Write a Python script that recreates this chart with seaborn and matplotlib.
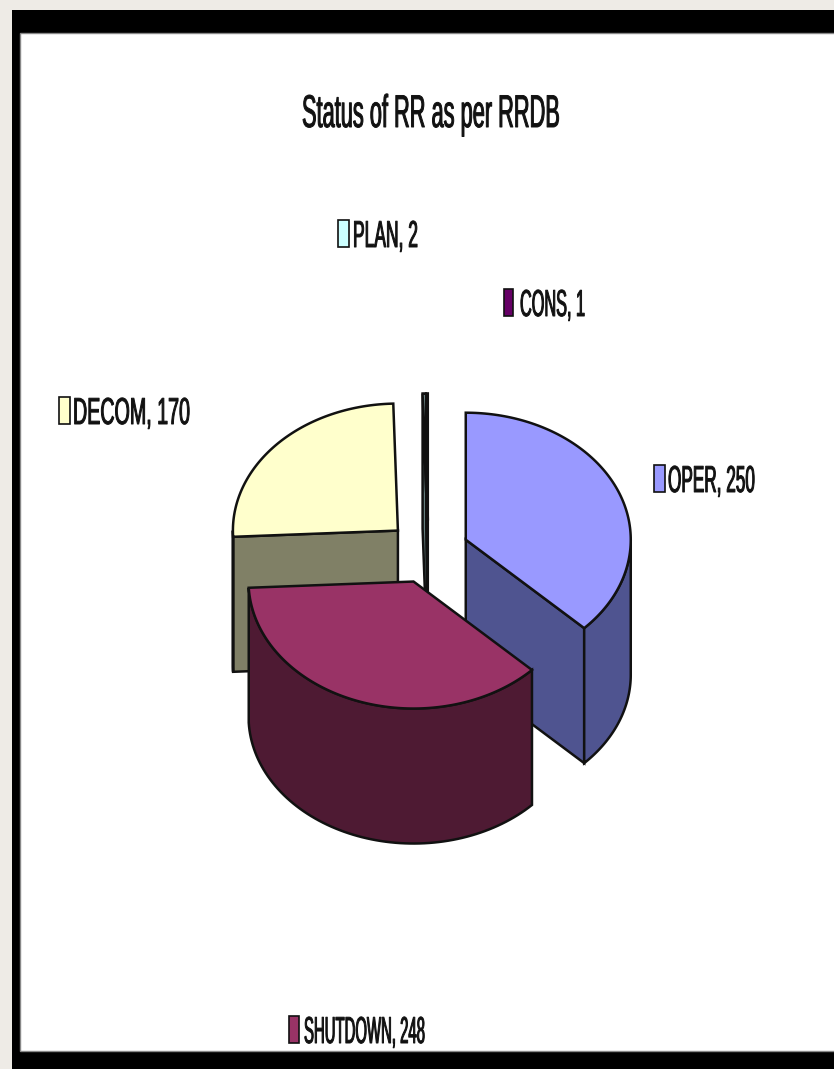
import numpy as np
import matplotlib
matplotlib.use("Agg")
import matplotlib.pyplot as plt
import matplotlib.patheffects as pe
from matplotlib.patches import Rectangle
from matplotlib.transforms import Affine2D
import seaborn as sns

# data, clockwise from 12 o'clock
categories = ["OPER", "SHUTDOWN", "DECOM", "PLAN", "CONS"]
values = [250, 248, 170, 2, 1]
title = "Status of RR as per RRDB"

top_colors = sns.color_palette(["#9999FF", "#993366", "#FFFFCC", "#CCFFFF", "#660066"])
side_colors = sns.color_palette(["#4F5490", "#4E1A33", "#808066", "#667F7F", "#330033"])

# pie geometry in pixels
CENTER_X, CENTER_Y = 428, 552
RX, RY = 165, 127
DEPTH = 135
EXPLODE = 41
EDGE = "#111111"
LINE = 1.8

W, H = 834, 1069

sns.set_theme(style="white")
plt.rcParams["font.family"] = ["Liberation Sans Narrow", "Liberation Sans", "DejaVu Sans"]


class SqueezeX(pe.AbstractPathEffect):
    # the chart's labels are narrower than any installed font, and heavy from the blur
    def __init__(self, factor, x0, stroke=0.7):
        super().__init__()
        self.factor = factor
        self.x0 = x0
        self.stroke = stroke

    def draw_path(self, renderer, gc, tpath, affine, rgbFace=None):
        squeeze = Affine2D().translate(-self.x0, 0).scale(self.factor, 1).translate(self.x0, 0)
        gc0 = renderer.new_gc()
        gc0.copy_properties(gc)
        gc0.set_foreground(rgbFace)
        gc0.set_linewidth(self.stroke)
        renderer.draw_path(gc0, tpath, affine + squeeze, rgbFace)
        gc0.restore()


def ellipse_pts(cx, cy, theta):
    theta = np.radians(theta)
    return cx + RX * np.sin(theta), cy - RY * np.cos(theta)


def draw_slice(ax, start, end, top, side, z):
    mid = (start + end) / 2
    cx = CENTER_X + EXPLODE * np.sin(np.radians(mid))
    cy = CENTER_Y - EXPLODE * RY / RX * np.cos(np.radians(mid))

    # cut faces, only the ones turned towards the viewer
    for angle, visible in ((start, np.sin(np.radians(start)) < 0), (end, np.sin(np.radians(end)) > 0)):
        if visible:
            px, py = ellipse_pts(cx, cy, angle)
            ax.fill([cx, px, px, cx], [cy, py, py + DEPTH, cy + DEPTH],
                    facecolor=side, edgecolor=EDGE, linewidth=LINE, zorder=z)

    # outer wall, front half of the ellipse only
    lo, hi = max(start, 90), min(end, 270)
    if hi > lo:
        t = np.linspace(lo, hi, 80)
        ox, oy = ellipse_pts(cx, cy, t)
        ax.fill(np.r_[ox, ox[::-1]], np.r_[oy, oy[::-1] + DEPTH],
                facecolor=side, edgecolor=EDGE, linewidth=LINE, zorder=z + 0.1)

    # top surface
    t = np.linspace(start, end, 120)
    ox, oy = ellipse_pts(cx, cy, t)
    ax.fill(np.r_[cx, ox], np.r_[cy, oy], facecolor=top, edgecolor=EDGE,
            linewidth=LINE, zorder=z + 0.2)


def draw_label(ax, x, baseline, text, width, size):
    # anchored on its centre so the unsqueezed box stays inside the figure
    mid = x + width / 2
    t = ax.text(mid, baseline, text, fontsize=size, color="#111111", ha="center", va="baseline", zorder=10)
    natural = t.get_window_extent(fig.canvas.get_renderer()).width
    t.set_path_effects([SqueezeX(width / natural, mid)])
    return t


fig = plt.figure(figsize=(W / 100, H / 100), dpi=100, facecolor="#EEEBE6")
ax = fig.add_axes([0, 0, 1, 1])
ax.set_xlim(0, W)
ax.set_ylim(H, 0)
ax.axis("off")

# photo-of-a-slide frame, white runs off the right edge
ax.add_patch(Rectangle((12, 10), W, H, facecolor="black", edgecolor="none", zorder=0))
ax.add_patch(Rectangle((20, 33), W, 1051 - 33, facecolor="white", edgecolor="#888888", linewidth=1, zorder=1))

total = sum(values)
edges = np.r_[0, np.cumsum(values)] / total * 360
draw_order = {"DECOM": 2, "PLAN": 3, "CONS": 4, "OPER": 5, "SHUTDOWN": 6}
for i, name in enumerate(categories):
    draw_slice(ax, edges[i], edges[i + 1], top_colors[i], side_colors[i], draw_order[name])

draw_label(ax, 302, 127, title, 258, 33)

# legend text: square x, square width, text x, baseline, text width
label_layout = {
    "PLAN": (338, 11, 353, 247, 65),
    "CONS": (504, 9, 520, 316, 65),
    "DECOM": (59, 11, 73, 424, 117),
    "OPER": (654, 11, 668, 492, 87),
    "SHUTDOWN": (289, 10, 304, 1043, 121),
}
for i, name in enumerate(categories):
    sx, sw, tx, base, tw = label_layout[name]
    ax.add_patch(Rectangle((sx, base - 27), sw, 27, facecolor=top_colors[i], edgecolor=EDGE,
                           linewidth=1.2, zorder=9))
    draw_label(ax, tx, base, f"{name}, {values[i]}", tw, 27)

fig.savefig("out.png", dpi=100, facecolor=fig.get_facecolor())
